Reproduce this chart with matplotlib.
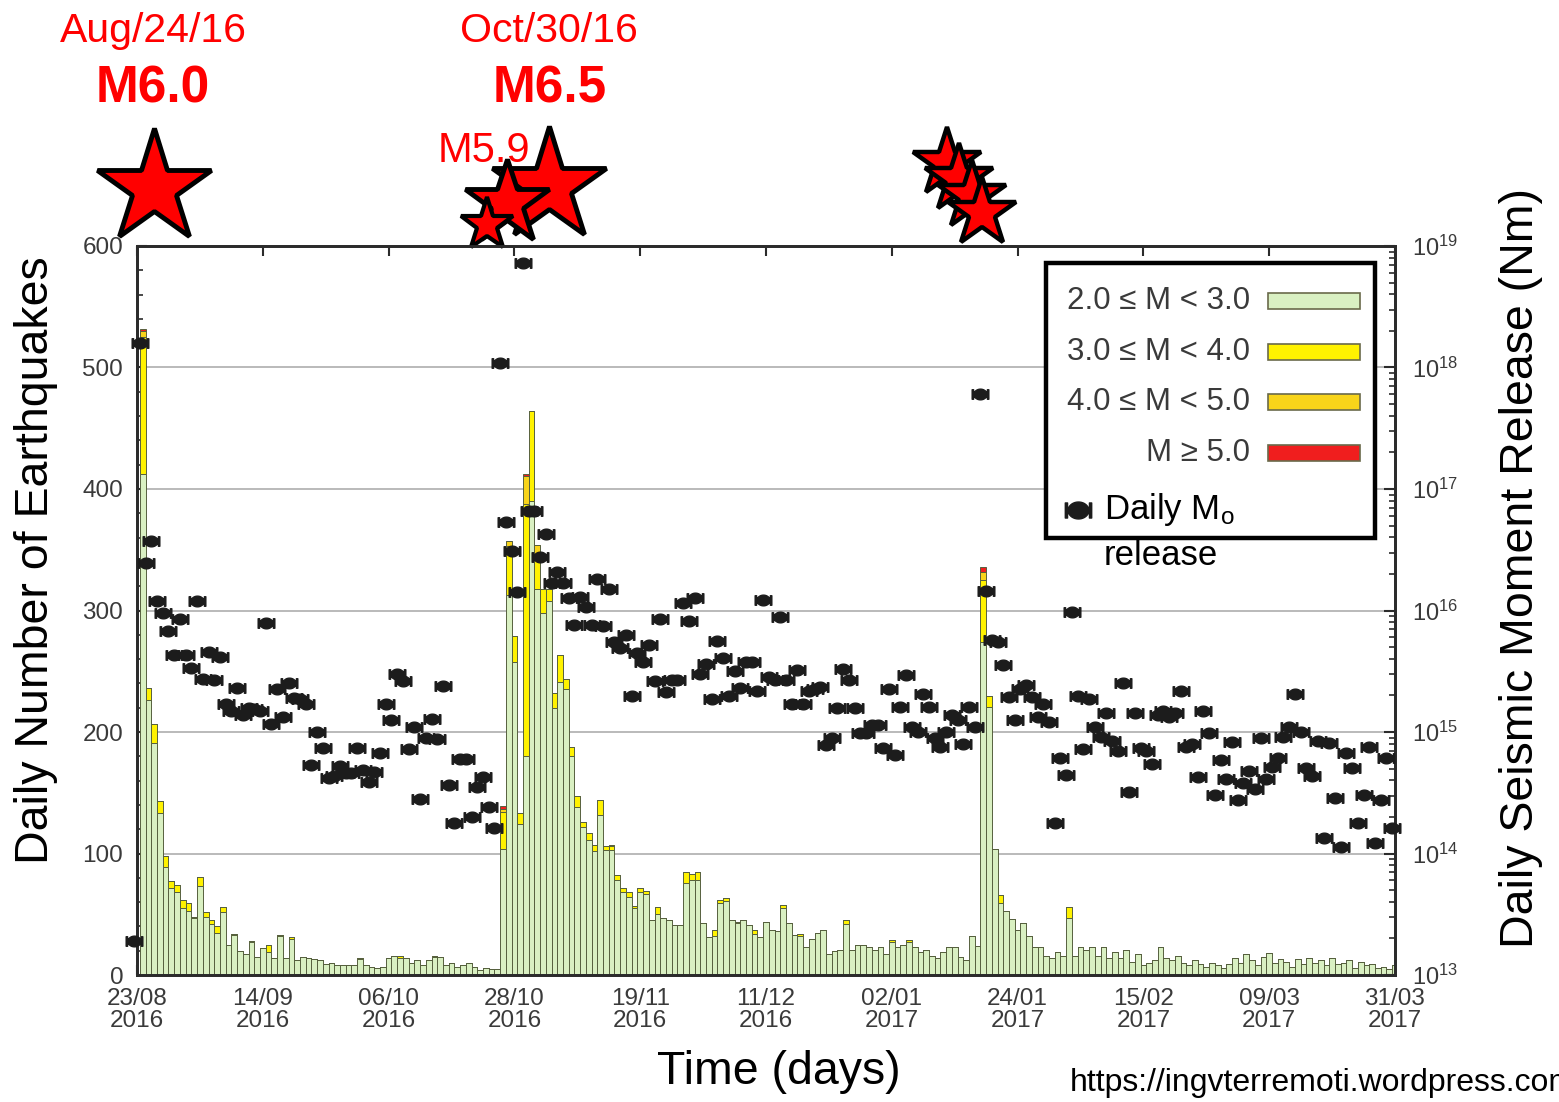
import matplotlib
matplotlib.use("Agg")
import matplotlib.pyplot as plt
import numpy as np
from matplotlib.patches import Rectangle
from matplotlib.path import Path
from matplotlib.ticker import MultipleLocator

plt.rcParams['font.family'] = ['Liberation Sans', 'DejaVu Sans']
plt.rcParams['mathtext.fontset'] = 'custom'
plt.rcParams['mathtext.rm'] = 'Liberation Sans'
plt.rcParams['mathtext.it'] = 'Liberation Sans:italic'

# daily counts by magnitude class, day 0 = 23/08/2016
n_2_3 = [
    0, 412, 226, 191, 133, 89, 72, 68, 55, 53,
    47, 73, 48, 42, 35, 52, 25, 33, 20, 17,
    27, 15, 22, 19, 14, 32, 14, 30, 12, 15,
    14, 13, 12, 9, 10, 8, 8, 8, 8, 13,
    8, 7, 6, 7, 14, 16, 14, 14, 10, 12,
    8, 12, 15, 15, 8, 10, 7, 8, 10, 7,
    4, 6, 5, 5, 104, 313, 258, 124, 180, 390,
    318, 298, 308, 220, 241, 235, 180, 138, 122, 111,
    102, 132, 103, 103, 78, 68, 64, 55, 68, 67,
    45, 50, 47, 45, 41, 41, 76, 78, 78, 43,
    31, 32, 59, 61, 45, 43, 45, 41, 34, 31,
    44, 37, 36, 55, 43, 33, 32, 23, 30, 35,
    37, 17, 20, 21, 42, 21, 25, 25, 23, 21,
    23, 17, 27, 23, 25, 27, 23, 19, 21, 16,
    14, 19, 23, 23, 15, 12, 32, 24, 274, 221,
    104, 59, 53, 46, 37, 43, 32, 23, 23, 16,
    14, 19, 16, 47, 16, 23, 21, 23, 16, 23,
    14, 19, 14, 21, 11, 17, 8, 10, 12, 23,
    14, 12, 16, 10, 8, 12, 9, 7, 10, 8,
    6, 9, 14, 10, 17, 12, 8, 15, 18, 10,
    13, 11, 7, 13, 9, 14, 10, 12, 8, 14,
    9, 10, 12, 6, 11, 8, 9, 6, 7, 5, 8,
]
n_3_4 = [
    0, 113, 10, 16, 10, 9, 5, 6, 7, 6,
    1, 8, 4, 3, 5, 4, 0, 1, 0, 0,
    1, 0, 0, 6, 0, 1, 0, 1, 0, 0,
    0, 0, 0, 0, 0, 0, 0, 0, 0, 1,
    0, 0, 0, 0, 0, 0, 2, 0, 0, 0,
    0, 0, 1, 0, 0, 0, 0, 0, 0, 0,
    0, 0, 0, 0, 30, 40, 21, 9, 208, 74,
    28, 20, 10, 12, 22, 9, 8, 9, 4, 6,
    5, 12, 3, 3, 4, 4, 4, 2, 4, 2,
    0, 6, 0, 0, 0, 0, 9, 5, 7, 0,
    0, 5, 3, 2, 0, 1, 0, 0, 3, 0,
    0, 0, 0, 3, 0, 0, 2, 0, 0, 0,
    0, 0, 0, 0, 3, 0, 0, 0, 0, 0,
    0, 0, 2, 0, 0, 2, 0, 0, 0, 0,
    0, 0, 0, 0, 0, 0, 0, 0, 51, 9,
    0, 7, 0, 0, 0, 0, 0, 0, 0, 0,
    0, 0, 0, 9, 0, 0, 0, 0, 0, 0,
    0, 0, 0, 0, 0, 0, 0, 0, 0, 0,
    0, 0, 0, 0, 0, 0, 0, 0, 0, 0,
    0, 0, 0, 0, 0, 0, 0, 0, 0, 0,
    0, 0, 0, 0, 0, 0, 0, 0, 0, 0,
    0, 0, 0, 0, 0, 0, 0, 0, 0, 0, 0,
]
n_4_5 = [0] * 221
n_5 = [0] * 221
for d, v in [(1, 5), (64, 3), (65, 4), (68, 23), (70, 8), (83, 1), (148, 7)]:
    n_4_5[d] = v
for d, v in [(1, 2), (64, 2), (68, 1), (148, 4)]:
    n_5[d] = v

# log10 of daily seismic moment release (Nm)
mo_log = [
    13.28, 18.20, 16.39, 16.57, 16.08, 15.98, 15.83, 15.63, 15.93, 15.63,
    15.53, 16.08, 15.44, 15.66, 15.43, 15.62, 15.23, 15.17, 15.36, 15.14,
    15.20, 15.19, 15.17, 15.90, 15.07, 15.35, 15.12, 15.40, 15.28, 15.27,
    15.23, 14.73, 15.00, 14.87, 14.62, 14.64, 14.72, 14.66, 14.66, 14.87,
    14.69, 14.59, 14.67, 14.83, 15.23, 15.10, 15.48, 15.42, 14.86, 15.04,
    14.45, 14.95, 15.11, 14.94, 15.38, 14.56, 14.25, 14.78, 14.78, 14.30,
    14.55, 14.63, 14.38, 14.21, 18.04, 16.73, 16.49, 16.15, 18.86, 16.82,
    16.82, 16.44, 16.63, 16.23, 16.32, 16.23, 16.10, 15.88, 16.11, 16.03,
    15.88, 16.26, 15.87, 16.18, 15.74, 15.69, 15.80, 15.30, 15.65, 15.58,
    15.72, 15.42, 15.93, 15.33, 15.43, 15.43, 16.06, 15.91, 16.10, 15.48,
    15.56, 15.27, 15.75, 15.61, 15.30, 15.50, 15.36, 15.58, 15.58, 15.34,
    16.09, 15.45, 15.43, 15.95, 15.43, 15.23, 15.51, 15.23, 15.34, 15.35,
    15.37, 14.89, 14.95, 15.20, 15.52, 15.43, 15.20, 14.99, 14.99, 15.06,
    15.06, 14.87, 15.35, 14.81, 15.21, 15.47, 15.04, 15.00, 15.31, 15.21,
    14.95, 14.88, 15.00, 15.14, 15.10, 14.90, 15.21, 15.04, 17.78, 16.16,
    15.76, 15.74, 15.55, 15.29, 15.10, 15.35, 15.39, 15.29, 15.12, 15.23,
    15.08, 14.25, 14.79, 14.65, 15.99, 15.30, 14.86, 15.27, 15.04, 14.96,
    15.16, 14.93, 14.84, 15.40, 14.51, 15.16, 14.87, 14.84, 14.74, 15.14,
    15.17, 15.12, 15.16, 15.34, 14.88, 14.90, 14.63, 15.17, 14.99, 14.48,
    14.77, 14.61, 14.92, 14.44, 14.58, 14.68, 14.53, 14.95, 14.61, 14.71,
    14.79, 14.96, 15.04, 15.31, 15.00, 14.70, 14.64, 14.93, 14.13, 14.91,
    14.46, 14.05, 14.83, 14.70, 14.25, 14.48, 14.88, 14.09, 14.44, 14.79, 14.21,
]

date_labels = ['23/08\n2016', '14/09\n2016', '06/10\n2016', '28/10\n2016',
               '19/11\n2016', '11/12\n2016', '02/01\n2017', '24/01\n2017',
               '15/02\n2017', '09/03\n2017', '31/03\n2017']
class_labels = ['2.0 \u2264 M < 3.0', '3.0 \u2264 M < 4.0',
                '4.0 \u2264 M < 5.0', 'M \u2265 5.0']
class_colors = ['#d9f0c2', '#fff200', '#f8d41a', '#f01e1e']
edge = '#56603e'
axis_col = '#2b2b2b'
label_col = '#3a3a3a'

days = np.arange(len(n_2_3))
counts = [np.array(n_2_3), np.array(n_3_4), np.array(n_4_5), np.array(n_5)]

# candy-shaped marker for the moment release points
t = np.linspace(0, 2 * np.pi, 40)
ell = Path(np.column_stack([0.55 * np.cos(t), 0.45 * np.sin(t)]), closed=True)
side_l = Path([(-0.70, -0.40), (-0.58, -0.40), (-0.58, 0.40), (-0.70, 0.40), (-0.70, -0.40)], closed=True)
side_r = Path([(0.58, -0.40), (0.70, -0.40), (0.70, 0.40), (0.58, 0.40), (0.58, -0.40)], closed=True)
candy = Path.make_compound_path(ell, side_l, side_r)

fig = plt.figure(figsize=(15.59, 11.02), dpi=100)
ax = fig.add_axes([0.0879, 0.1152, 0.8069, 0.6616])

bottom = np.zeros(len(days))
for c, col in zip(counts, class_colors):
    ax.bar(days, c, width=1.0, bottom=bottom, color=col, edgecolor=edge,
           linewidth=0.7, zorder=2)
    bottom = bottom + c

ax.set_xlim(0, 220)
ax.set_ylim(0, 600)
ax.set_yticks(range(0, 601, 100))
ax.yaxis.set_minor_locator(MultipleLocator(20))
ax.set_xticks(range(0, 221, 22))
ax.set_xticklabels(date_labels, linespacing=1.05)
ax.yaxis.grid(True, color='#b4b4b4', linewidth=1.3)
ax.set_axisbelow(True)
ax.tick_params(axis='both', which='both', direction='in', color=axis_col,
               labelcolor=label_col, labelsize=17.5)
ax.tick_params(axis='y', which='major', length=7, width=1.5, pad=10, right=False)
ax.tick_params(axis='y', which='minor', length=4, width=1.2, right=False)
ax.tick_params(axis='x', which='major', length=7, width=1.5, pad=9, top=True)
for s in ax.spines.values():
    s.set_color(axis_col)
    s.set_linewidth(2)

ax2 = ax.twinx()
ax2.set_yscale('log')
ax2.set_ylim(1e13, 1e19)
ax2.plot(days - 0.5, 10 ** np.array(mo_log), ls='none', marker=candy,
         ms=12, color='#1c1c1c', clip_on=False, zorder=5)
ax2.tick_params(axis='y', which='both', direction='in', color=axis_col,
                labelcolor=label_col, labelsize=17, pad=12)
ax2.tick_params(axis='y', which='major', length=8, width=1.5)
ax2.tick_params(axis='y', which='minor', length=4, width=1.2)
for s in ax2.spines.values():
    s.set_color(axis_col)
    s.set_linewidth(2)

# legend box
tr = ax2.transAxes
ax2.add_patch(Rectangle((0.7226, 0.5995), 0.2615, 0.3772, transform=tr,
                        facecolor='white', edgecolor='black', linewidth=3.2,
                        zorder=10, clip_on=False))
for k, (lab, col) in enumerate(zip(class_labels, class_colors)):
    yk = 0.9246 - k * 0.0695
    ax2.text(0.8847, yk, lab, transform=tr, ha='right', va='center',
             fontsize=22.5, color=label_col, zorder=11)
    ax2.add_patch(Rectangle((0.8990, yk - 0.011), 0.0732, 0.022, transform=tr,
                            facecolor=col, edgecolor='#6a6a4a', linewidth=1.2,
                            zorder=11, clip_on=False))
ax2.plot([0.748], [0.6379], transform=tr, marker=candy, ms=19, color='#1c1c1c',
         ls='none', zorder=11, clip_on=False)
ax2.text(0.7687, 0.6379, r'Daily M$_{\mathrm{o}}$', transform=tr, ha='left',
         va='center', fontsize=25, color='black', zorder=11)
ax2.text(0.7687, 0.5748, 'release', transform=tr, ha='left', va='center',
         fontsize=25, color='black', zorder=11)

# main shocks above the panel
star_kw = dict(marker='*', markerfacecolor='#ff0000', markeredgecolor='black',
               ls='none', clip_on=False, zorder=6)
for x, y, ms in [(3.0, 648, 86)]:
    ax.plot([x], [y], ms=ms, markeredgewidth=3.5, **star_kw)
for x, y, ms in [(72.1, 649, 86), (64.7, 635, 64), (61.2, 617, 40)]:
    ax.plot([x], [y], ms=ms, markeredgewidth=3.5 if ms > 50 else 3, **star_kw)
for x, y in [(141.7, 668), (143.8, 655), (146.0, 641), (147.8, 627)]:
    ax.plot([x], [y], ms=52, markeredgewidth=3.2, **star_kw)

ax.text(2.8, 768, 'Aug/24/16', ha='center', va='baseline', color='red',
        fontsize=29.5, clip_on=False)
ax.text(2.8, 718, 'M6.0', ha='center', va='baseline', color='red',
        fontsize=37, fontweight='bold', clip_on=False)
ax.text(72.1, 768, 'Oct/30/16', ha='center', va='baseline', color='red',
        fontsize=29.5, clip_on=False)
ax.text(72.2, 718, 'M6.5', ha='center', va='baseline', color='red',
        fontsize=37, fontweight='bold', clip_on=False)
ax.text(60.7, 669, 'M5.9', ha='center', va='baseline', color='red',
        fontsize=30, clip_on=False)

fig.text(0.0231, 0.492, 'Daily Number of Earthquakes', rotation=90,
         ha='center', va='center', fontsize=33.5)
fig.text(0.9756, 0.485, 'Daily Seismic Moment Release (Nm)', rotation=90,
         ha='center', va='center', fontsize=33.5)
fig.text(0.4997, 0.027, 'Time (days)', ha='center', va='center', fontsize=33.5)
fig.text(0.6863, 0.017, 'https://ingvterremoti.wordpress.com', ha='left',
         va='center', fontsize=23)

fig.savefig('out.png', dpi=100)
